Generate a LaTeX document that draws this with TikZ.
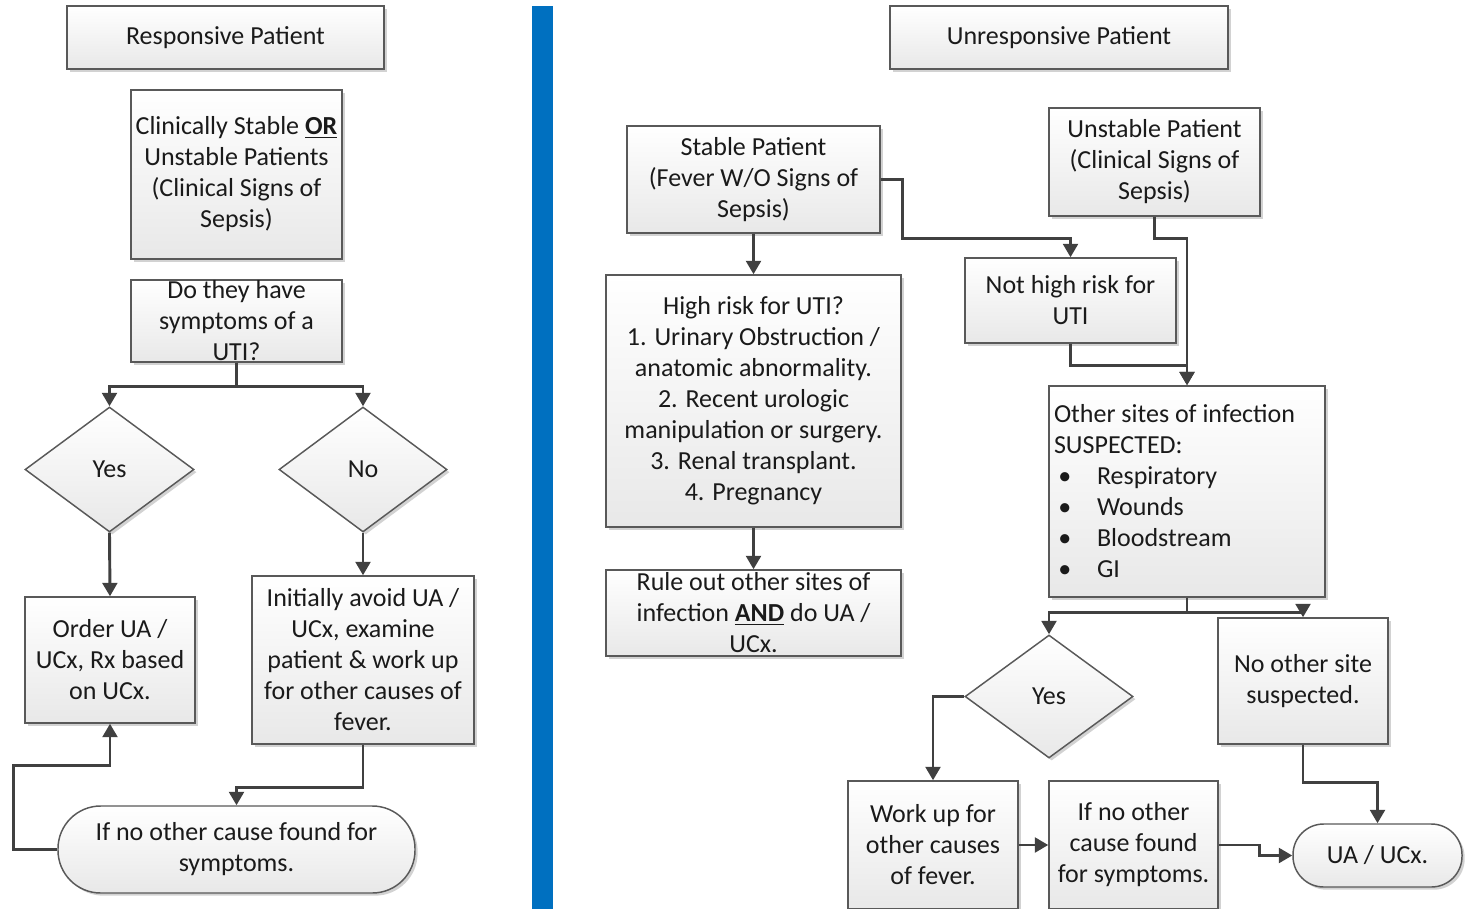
\documentclass[tikz,border=0pt]{standalone}
\usepackage{fontspec}
\setmainfont{Carlito}
\usetikzlibrary{shapes.geometric,arrows.meta,shadows}
\newdimen\pxu \pxu=0.75pt
\definecolor{linec}{HTML}{404040}
\definecolor{boxline}{HTML}{595959}
\definecolor{barblue}{HTML}{0070C0}
\definecolor{txt}{HTML}{1A1A1A}
\tikzset{
 nbase/.style={draw=boxline, line width=1.1pt, top color=white, bottom color=black!9,
   text=txt, inner sep=0pt, align=center, font=\fontsize{19.5}{23.25}\selectfont,
   drop shadow={shadow xshift=2pt, shadow yshift=-2pt, fill=black!35, opacity=0.5}},
 nbox/.style={nbase, rectangle},
 ndia/.style={nbase, diamond},
 nterm/.style={nbase, rectangle},
 wh/.style 2 args={minimum width=#1\pxu, minimum height=#2\pxu},
 arr/.style={draw=linec, line width=2.2pt, -{Triangle[width=11pt,length=10pt]}},
}
\begin{document}
\begin{tikzpicture}[x=0.75pt,y=-0.75pt]
\useasboundingbox (0,0) rectangle (1473,909);
\fill[barblue] (532,6) rectangle (553,909);

% left side
\node[nbox, wh={317}{63}] (resp) at (225.5,37.5) {Responsive Patient};
\node[nbox, wh={211}{169}] (clin) at (236.5,174.5) {Clinically Stable \underline{\textbf{OR}}\\Unstable Patients\\(Clinical Signs of\\Sepsis)};
\node[nbox, wh={211}{82}] (q) at (236.5,321) {Do they have\\symptoms of a\\UTI?};
\node[ndia, wh={169}{125}] (yes) at (109.5,469.5) {Yes};
\node[ndia, wh={168}{125}] (no) at (363,469.5) {No};
\node[nbox, wh={170}{126}] (order) at (110,660) {Order UA /\\UCx, Rx based\\on UCx.};
\node[nbox, wh={222}{168}] (init) at (363,660) {Initially avoid UA /\\UCx, examine\\patient \& work up\\for other causes of\\fever.};
\node[nterm, rounded corners=32pt, wh={357}{87}] (term) at (236.5,849.5) {If no other cause found for\\symptoms.};

\draw[arr] (q.south) -- ++(0,24) -| (yes.north);
\draw[arr] (q.south) -- ++(0,24) -| (no.north);
\draw[arr] (yes.south) -- (order.north);
\draw[arr] (no.south) -- (init.north);
\draw[arr] (init.south) -- ++(0,43) -| (term.north);
\draw[arr] (term.west) -| ++(-44,-84) -| (order.south);

% right side
\node[nbox, wh={338}{63}] (unresp) at (1059,37.5) {Unresponsive Patient};
\node[nbox, wh={253}{107}] (stable) at (753.5,179.5) {Stable Patient\\(Fever W/O Signs of\\Sepsis)};
\node[nbox, wh={211}{108}] (unstable) at (1154.5,162) {Unstable Patient\\(Clinical Signs of\\Sepsis)};
\node[nbox, wh={295}{252}] (high) at (753.5,401) {High risk for UTI?\\1. Urinary Obstruction /\\anatomic abnormality.\\2. Recent urologic\\manipulation or surgery.\\3. Renal transplant.\\4. Pregnancy};
\node[nbox, wh={211}{85}] (nothigh) at (1070.5,300.5) {Not high risk for\\UTI};
\node[nbox, wh={295}{86}] (rule) at (753.5,613) {Rule out other sites of\\infection \underline{\textbf{AND}} do UA /\\UCx.};
\node[nbox, wh={276}{211}, align=flush left, text width=266\pxu] (other) at (1187,491.5) {Other sites of infection\\SUSPECTED:\\\makebox[43\pxu][l]{\,\textbullet}Respiratory\\\makebox[43\pxu][l]{\,\textbullet}Wounds\\\makebox[43\pxu][l]{\,\textbullet}Bloodstream\\\makebox[43\pxu][l]{\,\textbullet}GI};
\node[ndia, wh={168}{123}] (yes2) at (1049,696.5) {Yes};
\node[nbox, wh={170}{126}] (noother) at (1303,681) {No other site\\suspected.};
\node[nbox, wh={170}{128}] (work) at (933,845) {Work up for\\other causes\\of fever.};
\node[nbox, wh={169}{128}] (ifno) at (1133.5,845) {If no other\\cause found\\for symptoms.};
\node[nterm, rounded corners=23pt, wh={169}{63}] (ua) at (1377.5,855.5) {UA / UCx.};

\draw[arr] (stable.south) -- (high.north);
\draw[arr] (high.south) -- (rule.north);
\draw[arr] (stable.east) -- ++(22,0) -- ++(0,59) -| (nothigh.north);
\draw[arr] (unstable.south) -- ++(0,22) -| (other.north);
\draw[arr] (nothigh.south) -- ++(0,22) -| (other.north);
\draw[arr] (other.south) -- ++(0,15) -| (yes2.north);
\draw[arr] (other.south) -- ++(0,15) -| (noother.north);
\draw[arr] (yes2.west) -| (work.north);
\draw[arr] (work.east) -- (ifno.west);
\draw[arr] (ifno.east) -- ++(41,0) |- (ua.west);
\draw[arr] (noother.south) -- ++(0,38) -| (ua.north);
\end{tikzpicture}
\end{document}
